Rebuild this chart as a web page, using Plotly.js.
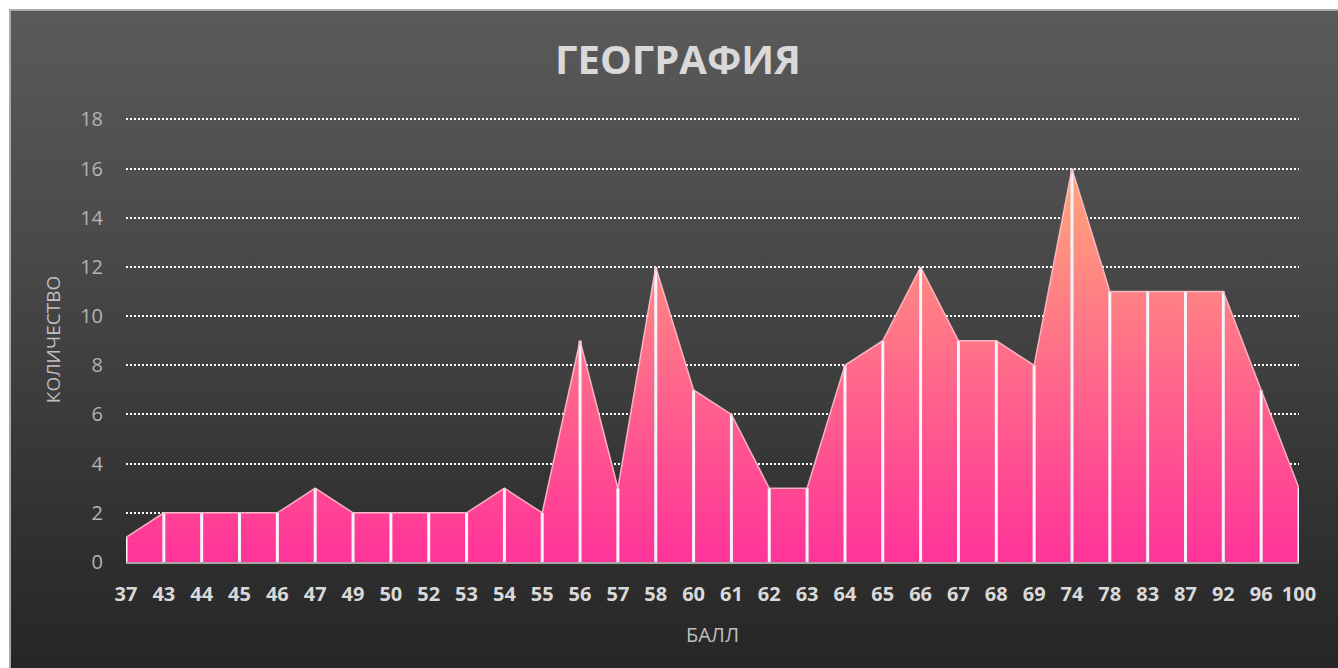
<!DOCTYPE html>
<html>
<head>
<meta charset="utf-8">
<script src="https://cdn.plot.ly/plotly-3.0.1.min.js"></script>
<style>
  html, body { margin: 0; padding: 0; background: #ffffff; width: 1338px; height: 668px; overflow: hidden; }
  #bg { position: absolute; left: 9px; top: 9px; width: 1329px; height: 659px; box-sizing: border-box;
        border-left: 2px solid #a9a9a9; border-top: 2px solid #a9a9a9;
        background: linear-gradient(to bottom, #5a5a5a 0%, #4a4a4a 35%, #333333 75%, #262626 100%); }
  #chart { position: absolute; left: 0; top: 0; width: 1338px; height: 668px; }
</style>
</head>
<body>
<div id="bg"></div>
<div id="chart"></div>
<script>
const categories = ['37','43','44','45','46','47','49','50','52','53','54','55','56','57','58','60','61','62','63','64','65','66','67','68','69','74','78','83','87','92','96','100'];
const counts = [1,2,2,2,2,3,2,2,2,2,3,2,9,3,12,7,6,3,3,8,9,12,9,9,8,16,11,11,11,11,7,3];
const yTicks = [0,2,4,6,8,10,12,14,16,18];
const titleText = 'ГЕОГРАФИЯ';
const xTitle = 'БАЛЛ';
const yTitle = 'КОЛИЧЕСТВО';

const zeros = counts.map(() => 0);

const trace = {
  type: 'scatter',
  mode: 'lines',
  x: categories,
  y: counts,
  fill: 'tozeroy',
  fillgradient: {
    type: 'vertical',
    colorscale: [[0, '#ff3399'], [0.5, '#ff6b8a'], [1, '#ffa878']]
  },
  line: { color: 'rgba(255,190,205,0.9)', width: 1.5 },
  error_y: {
    type: 'data',
    symmetric: false,
    array: zeros,
    arrayminus: counts,
    width: 0,
    thickness: 3,
    color: '#f4f4fa'
  },
  hoverinfo: 'x+y',
  showlegend: false
};

const layout = {
  width: 1338,
  height: 668,
  paper_bgcolor: 'rgba(0,0,0,0)',
  plot_bgcolor: 'rgba(0,0,0,0)',
  margin: { l: 126, r: 39, t: 117, b: 106 },
  font: { family: 'Open Sans, sans-serif', color: '#bfbfbf' },
  title: {
    text: '<b>' + titleText + '</b>',
    font: { family: 'Open Sans, sans-serif', size: 40, color: '#d9d9d9' },
    x: 678 / 1338,
    xanchor: 'center',
    y: 1 - 60 / 668,
    yanchor: 'middle'
  },
  xaxis: {
    type: 'category',
    range: [0, categories.length - 1],
    showgrid: false,
    zeroline: false,
    showline: true,
    linecolor: '#a6a6a6',
    linewidth: 2,
    ticks: 'outside',
    ticklen: 13,
    tickcolor: 'rgba(0,0,0,0)',
    tickfont: { family: 'Open Sans, sans-serif', size: 20, color: '#d9d9d9', weight: 'bold' },
    tickangle: 0,
    title: { text: xTitle, font: { family: 'Open Sans, sans-serif', size: 20, color: '#bfbfbf' }, standoff: 22 },
    fixedrange: true
  },
  yaxis: {
    range: [0, 18.1],
    tickmode: 'array',
    tickvals: yTicks,
    showgrid: true,
    gridcolor: '#ffffff',
    gridwidth: 2,
    griddash: '2px,2px',
    zeroline: false,
    showline: false,
    ticks: 'outside',
    ticklen: 18,
    tickcolor: 'rgba(0,0,0,0)',
    tickfont: { family: 'Open Sans, sans-serif', size: 20, color: '#b3b3b3' },
    title: { text: yTitle, font: { family: 'Open Sans, sans-serif', size: 19, color: '#bfbfbf' }, standoff: 14 },
    fixedrange: true
  }
};

Plotly.newPlot('chart', [trace], layout, { displayModeBar: false, staticPlot: true });
</script>
</body>
</html>
